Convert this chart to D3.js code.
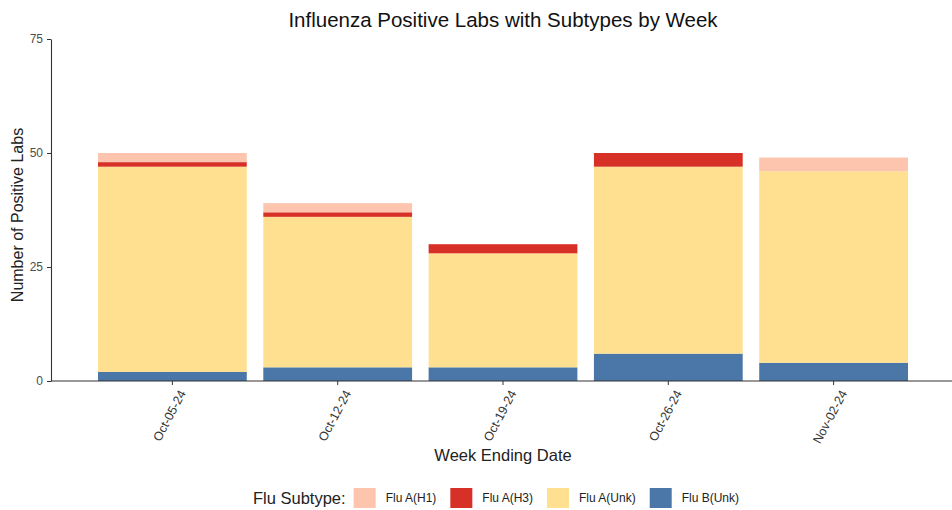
<!DOCTYPE html>
<html>
<head>
<meta charset="utf-8">
<script src="https://cdn.jsdelivr.net/npm/d3@7"></script>
<style>
  body { margin: 0; background: #fff; }
  svg { font-family: "Liberation Sans", Arial, sans-serif; }
</style>
</head>
<body>
<svg id="chart" width="952" height="510"></svg>
<script>
// data
var weeks = ["Oct-05-24", "Oct-12-24", "Oct-19-24", "Oct-26-24", "Nov-02-24"];
var subtypes = ["Flu B(Unk)", "Flu A(Unk)", "Flu A(H3)", "Flu A(H1)"]; // stacking order, bottom up
var legendOrder = ["Flu A(H1)", "Flu A(H3)", "Flu A(Unk)", "Flu B(Unk)"];
var fluB   = [2, 3, 3, 6, 4];
var fluAUnk = [45, 33, 25, 41, 42];
var fluAH3 = [1, 1, 2, 3, 0];
var fluAH1 = [2, 2, 0, 0, 3];
var yTicks = [0, 25, 50, 75];

var colors = {
  "Flu A(H1)": "#fdc4ae",
  "Flu A(H3)": "#d73027",
  "Flu A(Unk)": "#fee090",
  "Flu B(Unk)": "#4a76a8"
};

var svg = d3.select("#chart");

var plotLeft = 51, plotRight = 952, plotTop = 39, plotBottom = 381;

var rows = weeks.map(function(w, i) {
  return {week: w, "Flu B(Unk)": fluB[i], "Flu A(Unk)": fluAUnk[i], "Flu A(H3)": fluAH3[i], "Flu A(H1)": fluAH1[i]};
});

var stacked = d3.stack().keys(subtypes)(rows);

var x = d3.scaleBand()
    .domain(weeks)
    .range([98, 908])
    .paddingInner(0.1)
    .paddingOuter(0);

var y = d3.scaleLinear()
    .domain([0, 75])
    .range([plotBottom, plotTop]);

// bars
svg.append("g").selectAll("g")
    .data(stacked)
  .enter().append("g")
    .attr("fill", function(d) { return colors[d.key]; })
  .selectAll("rect")
    .data(function(d) { return d; })
  .enter().append("rect")
    .attr("x", function(d) { return x(d.data.week); })
    .attr("width", x.bandwidth())
    .attr("y", function(d) { return y(d[1]); })
    .attr("height", function(d) { return y(d[0]) - y(d[1]); });

// y axis
var yAxis = svg.append("g")
    .attr("transform", "translate(" + plotLeft + ",0)")
    .call(d3.axisLeft(y).tickValues(yTicks).tickSize(4).tickSizeOuter(0).tickPadding(4));
yAxis.select(".domain").attr("stroke", "#333").attr("stroke-width", 1.1);
yAxis.selectAll(".tick line").attr("stroke", "#333");
yAxis.selectAll(".tick text").attr("fill", "#4d4d4d").style("font-size", "12px");

// x axis
var xAxis = svg.append("g")
    .attr("transform", "translate(0," + plotBottom + ")")
    .call(d3.axisBottom(x).tickSize(4).tickSizeOuter(0));
xAxis.select(".domain").attr("d", "M" + plotLeft + ",0H" + plotRight).attr("stroke", "#333").attr("stroke-width", 1.1);
xAxis.selectAll(".tick line").attr("stroke", "#333");
xAxis.selectAll(".tick text")
    .attr("fill", "#333")
    .style("font-size", "12.5px")
    .attr("text-anchor", "end")
    .attr("dy", "0.35em")
    .attr("transform", "translate(10,10) rotate(-62)")
    .attr("x", 0)
    .attr("y", 0);

// titles
svg.append("text")
    .attr("x", 503).attr("y", 27)
    .attr("text-anchor", "middle")
    .style("font-size", "20.5px")
    .attr("fill", "#111")
    .text("Influenza Positive Labs with Subtypes by Week");

svg.append("text")
    .attr("transform", "translate(23,215) rotate(-90)")
    .attr("text-anchor", "middle")
    .style("font-size", "16px")
    .attr("fill", "#222")
    .text("Number of Positive Labs");

svg.append("text")
    .attr("x", 503).attr("y", 461)
    .attr("text-anchor", "middle")
    .style("font-size", "16.5px")
    .attr("fill", "#222")
    .text("Week Ending Date");

// legend
var legend = svg.append("g").attr("transform", "translate(253,498)");
var lt = legend.append("text")
    .attr("x", 0).attr("y", 0).attr("dy", "0.35em")
    .style("font-size", "16.5px")
    .attr("fill", "#222")
    .text("Flu Subtype:");
var lx = lt.node().getComputedTextLength() + 8;
legendOrder.forEach(function(k) {
  legend.append("rect")
      .attr("x", lx).attr("y", -10)
      .attr("width", 22).attr("height", 20)
      .attr("fill", colors[k]);
  var t = legend.append("text")
      .attr("x", lx + 32).attr("y", 0).attr("dy", "0.35em")
      .style("font-size", "12px")
      .attr("fill", "#222")
      .text(k);
  lx += 32 + t.node().getComputedTextLength() + 14;
});
</script>
</body>
</html>
